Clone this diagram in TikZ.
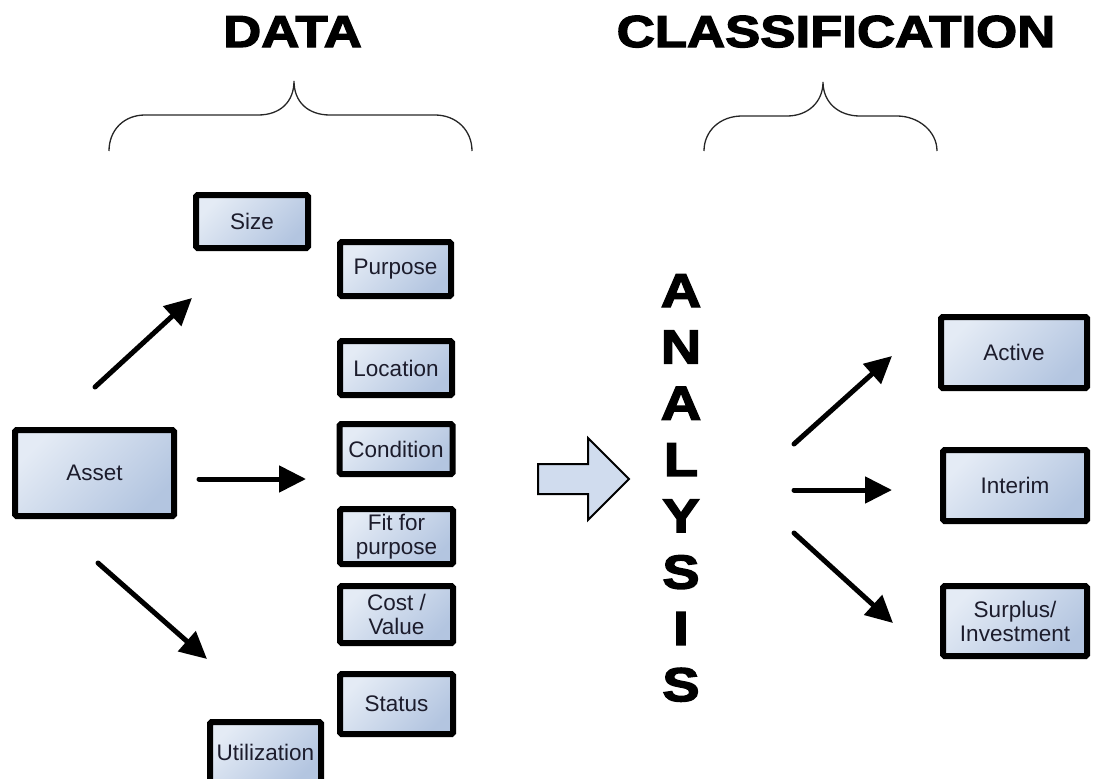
\documentclass[tikz,border=0pt]{standalone}
\usepackage{fontspec}
\setmainfont{Liberation Sans}
\newfontfamily\heavyfont[FakeStretch=1.18, BoldFeatures={FakeBold=3}]{Liberation Sans}
\usetikzlibrary{arrows.meta}
\definecolor{boxlight}{HTML}{E4EBF5}
\definecolor{boxdark}{HTML}{B3C5E0}
\definecolor{textc}{HTML}{1C1C2C}
\definecolor{bigarrow}{HTML}{D0DCEE}
\tikzset{
  databox/.style={draw=black, line width=6pt, rounded corners=1.5pt,
    top color=boxlight, bottom color=boxdark, shading angle=45,
    inner sep=0pt, align=center, text=textc,
    font=\fontsize{22.5}{24}\selectfont},
  flowarrow/.style={line width=5pt, line cap=round,
    -{Triangle[length=27pt,width=26pt]}},
  bracepath/.style={line width=1.3pt, draw=black!85},
  titletext/.style={inner sep=0pt, anchor=base,
    font=\heavyfont\bfseries\fontsize{44.7}{46}\selectfont},
  lettertext/.style={inner sep=0pt, anchor=base,
    font=\heavyfont\bfseries\fontsize{47.5}{48}\selectfont}
}
\begin{document}
\begin{tikzpicture}[x=1pt,y=-1pt]
\useasboundingbox (0,0) rectangle (1103,779);

% titles
\node[titletext] (tdata) at (292.5,47) {DATA};
\node[titletext] (tclass) at (836,47) {CLASSIFICATION};

% braces
\draw[bracepath] (109,151) .. controls (109,130) and (124,115) .. (145,115) -- (258,115)
  .. controls (280,115) and (294,102) .. (294,81)
  .. controls (294,102) and (308,115) .. (330,115) -- (435,115)
  .. controls (456,115) and (472,130) .. (472,151);
\draw[bracepath] (704,151) .. controls (704,131) and (720,116) .. (742,116) -- (787,116)
  .. controls (808,116) and (823,102) .. (823,82)
  .. controls (823,102) and (838,116) .. (860,116) -- (897,116)
  .. controls (918,116) and (937,131) .. (937,151);

% left boxes
\node[databox, minimum width=159pt, minimum height=86pt] (asset) at (94.5,473) {Asset};
\node[databox, minimum width=112pt, minimum height=53pt] (size) at (252,221.5) {Size};
\node[databox, minimum width=111pt, minimum height=54pt] (purpose) at (395.5,269) {Purpose};
\node[databox, minimum width=112pt, minimum height=54pt] (location) at (396,368) {Location};
\node[databox, minimum width=113pt, minimum height=50pt] (condition) at (396,449) {Condition};
\node[databox, minimum width=113pt, minimum height=55pt] (fit) at (396.5,536.5) {Fit for\\purpose};
\node[databox, minimum width=113pt, minimum height=57pt] (cost) at (396.5,614.5) {Cost /\\Value};
\node[databox, minimum width=113pt, minimum height=60pt] (status) at (396.5,704) {Status};
\node[databox, minimum width=111pt, minimum height=60pt] (util) at (265.5,752) {Utilization};

% right boxes
\node[databox, minimum width=146pt, minimum height=71pt] (active) at (1014,352.5) {Active};
\node[databox, minimum width=144pt, minimum height=71pt] (interim) at (1015,485.5) {Interim};
\node[databox, minimum width=144pt, minimum height=70pt] (surplus) at (1015,621) {Surplus/\\Investment};

% arrow end points
\coordinate (a1s) at (95,387);  \coordinate (a1e) at (192,298);
\coordinate (a2s) at (199,479); \coordinate (a2e) at (306,479);
\coordinate (a3s) at (98,563);  \coordinate (a3e) at (207,659);
\coordinate (b1s) at (794,444); \coordinate (b1e) at (892,356);
\coordinate (b2s) at (794,490); \coordinate (b2e) at (892,490);
\coordinate (b3s) at (794,533); \coordinate (b3e) at (893,623);

\draw[flowarrow] (a1s) -- (a1e);
\draw[flowarrow] (a2s) -- (a2e);
\draw[flowarrow] (a3s) -- (a3e);
\draw[flowarrow] (b1s) -- (b1e);
\draw[flowarrow] (b2s) -- (b2e);
\draw[flowarrow] (b3s) -- (b3e);

% big hollow arrow
\draw[line width=2pt, fill=bigarrow, line join=miter]
  (538,464) -- (588,464) -- (588,438) -- (629,479) -- (588,520) -- (588,494) -- (538,494) -- cycle;

% ANALYSIS
\node[lettertext] (l1) at (681,307) {A};
\node[lettertext] (l2) at (681,363.3) {N};
\node[lettertext] (l3) at (681,419.6) {A};
\node[lettertext] (l4) at (681,475.9) {L};
\node[lettertext] (l5) at (681,532.2) {Y};
\node[lettertext] (l6) at (681,588.5) {S};
\node[lettertext] (l7) at (681,644.8) {I};
\node[lettertext] (l8) at (681,701.1) {S};
\end{tikzpicture}
\end{document}
